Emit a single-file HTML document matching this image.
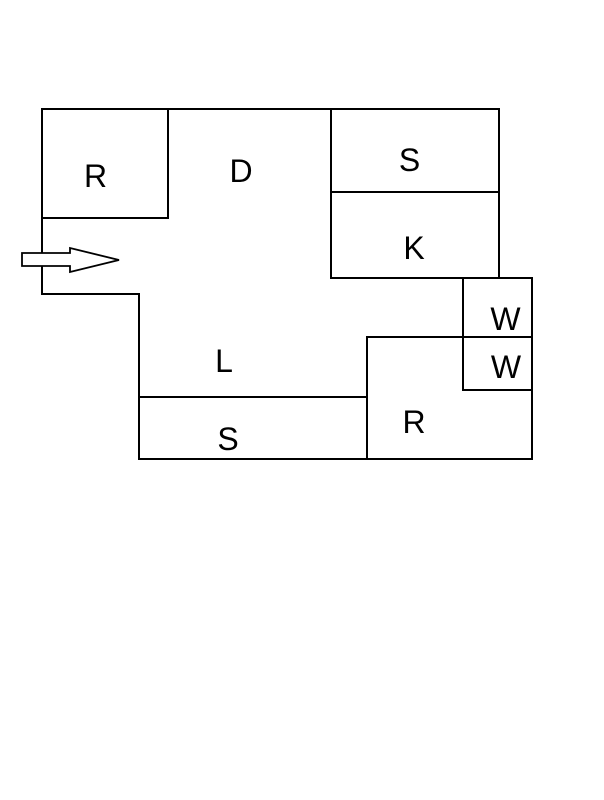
<!DOCTYPE html>
<html>
<head>
<meta charset="utf-8">
<style>
  html,body{margin:0;padding:0;background:#fff;}
  svg{display:block;}
  text{font-family:"Liberation Sans",sans-serif;font-size:32px;fill:#000;text-anchor:middle;}
</style>
</head>
<body>
<svg width="604" height="800" viewBox="0 0 604 800" xmlns="http://www.w3.org/2000/svg">
  <g fill="none" stroke="#000" stroke-width="2" stroke-linejoin="miter">
    <polygon points="42,109 499,109 499,278 532,278 532,459 139,459 139,294 42,294"/>
    <polyline points="168,109 168,218 42,218"/>
    <polyline points="331,109 331,278 499,278"/>
    <line x1="331" y1="192" x2="499" y2="192"/>
    <line x1="139" y1="397" x2="367" y2="397"/>
    <polyline points="367,459 367,337 532,337"/>
    <polyline points="463,278 463,390 532,390"/>
  </g>
  <polygon points="22,253 70,253 70,248 119,260 70,272 70,266 22,266" fill="#fff" stroke="#000" stroke-width="1.8"/>
  <text x="95.5" y="187">R</text>
  <text x="241" y="182">D</text>
  <text x="409.5" y="171">S</text>
  <text x="414" y="259">K</text>
  <text x="505.5" y="330">W</text>
  <text x="506" y="378">W</text>
  <text x="224" y="372">L</text>
  <text x="228" y="450">S</text>
  <text x="414" y="433">R</text>
</svg>
</body>
</html>
